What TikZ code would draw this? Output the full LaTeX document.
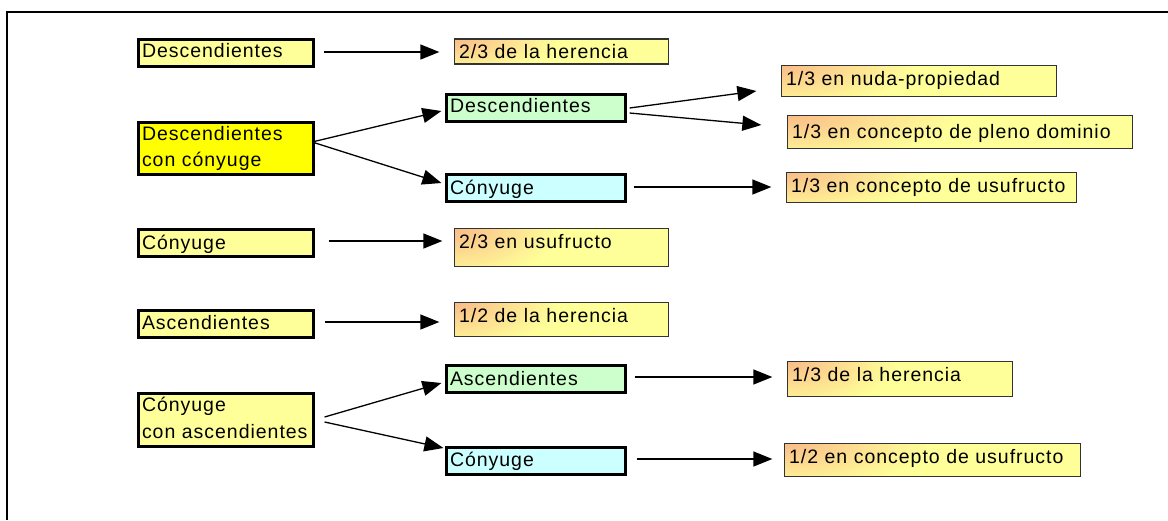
\documentclass[tikz,border=0pt]{standalone}
\usepackage{fontspec}
\setmainfont{Liberation Sans}[LetterSpace=5]
\usetikzlibrary{arrows.meta,calc}
\definecolor{paleyel}{RGB}{255,255,153}
\definecolor{brightyel}{RGB}{255,255,0}
\definecolor{palegreen}{RGB}{204,255,204}
\definecolor{palecyan}{RGB}{204,255,255}
\definecolor{resor}{RGB}{250,186,136}
\definecolor{resyel}{RGB}{255,255,153}
\begin{document}
\begin{tikzpicture}[x=1pt,y=-1pt,
  every node/.style={font=\fontsize{19.5}{26.6}\selectfont, align=left, inner ysep=0pt, text height=14pt},
  lbox/.style={draw=black, line width=3.2pt, inner xsep=3.5pt, text width=168pt},
  mbox/.style={draw=black, line width=3.2pt, inner xsep=3.5pt, text width=172pt},
  rbox/.style={draw=black!80, line width=1.3pt, inner xsep=4.5pt, fill=resyel,
    path picture={
      \path let \p1=($(path picture bounding box.south east)-(path picture bounding box.north west)$) in
        \pgfextra{\xdef\boxw{\x1}\xdef\boxh{\y1}};
      \foreach \k in {24,23,...,1}{
        \pgfmathtruncatemacro\pc{100-100*\k/24}
        \fill[resor!\pc!resyel] (path picture bounding box.north west)
          ellipse ({0.5*\boxw*\k/24} and {-1.4*\boxh*\k/24});
      }}},
  arr/.style={line width=1.3pt, -{Triangle[length=19pt,width=15pt]}}]
\useasboundingbox (0,0) rectangle (1168,520);
\draw[line width=2pt] (7,520) -- (7,12) -- (1168,12);

% left column
\node[lbox, fill=paleyel, minimum height=27pt, text depth=4.6pt] (D1) at (226,53) {Descendientes};
\node[lbox, fill=brightyel, minimum height=52pt, text depth=31pt] (DcC) at (226,148.5) {Descendientes\\con cónyuge};
\node[lbox, fill=paleyel, minimum height=27pt, text depth=2pt] (C1) at (226,243) {Cónyuge};
\node[lbox, fill=paleyel, minimum height=27pt, text depth=2.6pt] (A1) at (226,324) {Ascendientes};
\node[lbox, fill=paleyel, minimum height=53pt, text depth=30.6pt] (CcA) at (226,420) {Cónyuge\\con ascendientes};

% middle column
\node[mbox, fill=palegreen, minimum height=27pt, text depth=4.6pt] (Dg) at (536,108) {Descendientes};
\node[mbox, fill=palecyan, minimum height=27pt, text depth=1pt] (Cc) at (536,188) {Cónyuge};
\node[mbox, fill=palegreen, minimum height=27pt, text depth=1.4pt] (Ag) at (536,379) {Ascendientes};
\node[mbox, fill=palecyan, minimum height=27pt, text depth=3.4pt] (Cc2) at (536,461) {Cónyuge};

% result boxes
\node[rbox, text width=204.8pt, minimum height=24.8pt, text depth=0pt] (R1) at (561.5,51.5) {2/3 de la herencia};
\node[rbox, text width=204.8pt, minimum height=37.8pt, text depth=11.6pt] (R2) at (561.5,247.5) {2/3 en usufructo};
\node[rbox, text width=204.8pt, minimum height=33.8pt, text depth=7.4pt] (R3) at (561.5,319.5) {1/2 de la herencia};
\node[rbox, text width=265.8pt, minimum height=30.8pt, text depth=5.4pt] (R4) at (919,81) {1/3 en nuda-propiedad};
\node[rbox, text width=335.8pt, minimum height=32.8pt, text depth=0.6pt] (R5) at (960,132) {1/3 en concepto de pleno dominio};
\node[rbox, text width=280.8pt, minimum height=29.8pt, text depth=5pt] (R6) at (931.5,187.5) {1/3 en concepto de usufructo};
\node[rbox, text width=215.8pt, minimum height=34.8pt, text depth=9.4pt] (R7) at (900,379) {1/3 de la herencia};
\node[rbox, text width=286.8pt, minimum height=32.8pt, text depth=8pt] (R8) at (932.5,460) {1/2 en concepto de usufructo};

% connectors
\draw[arr] ($(D1.east)+(8.5,-1)$) -- ($(D1.east -| R1.west)+(-14.6,-1)$);
\draw[arr] ($(DcC.east)+(-3,-6.5)$) -- ($(Dg.west)+(-3.5,3)$);
\draw[arr] ($(DcC.east)+(-3,-6.5)$) -- ($(Cc.west)+(-3.5,-5)$);
\draw[arr] ($(Dg.east)+(2.5,0)$) -- ($(R4.west)+(-24.6,10)$);
\draw[arr] ($(Dg.east)+(2.5,5)$) -- ($(R5.west)+(-25.6,-7)$);
\draw[arr] ($(Cc.east)+(6.5,-1)$) -- ($(Cc.east -| R6.west)+(-14.6,-1)$);
\draw[arr] ($(C1.east)+(13.5,-2)$) -- ($(C1.east -| R2.west)+(-11.6,-2)$);
\draw[arr] ($(A1.east)+(9.5,-2)$) -- ($(A1.east -| R3.west)+(-14.6,-2)$);
\draw[arr] ($(CcA.east)+(9.5,-3)$) -- ($(Ag.west)+(-3.5,4)$);
\draw[arr] ($(CcA.east)+(9.5,2)$) -- ($(Cc2.west)+(-1.5,-13)$);
\draw[arr] ($(Ag.east)+(7.5,-2)$) -- ($(Ag.east -| R7.west)+(-14.6,-2)$);
\draw[arr] ($(Cc2.east)+(9.5,-2)$) -- ($(Cc2.east -| R8.west)+(-11.6,-2)$);
\end{tikzpicture}
\end{document}
